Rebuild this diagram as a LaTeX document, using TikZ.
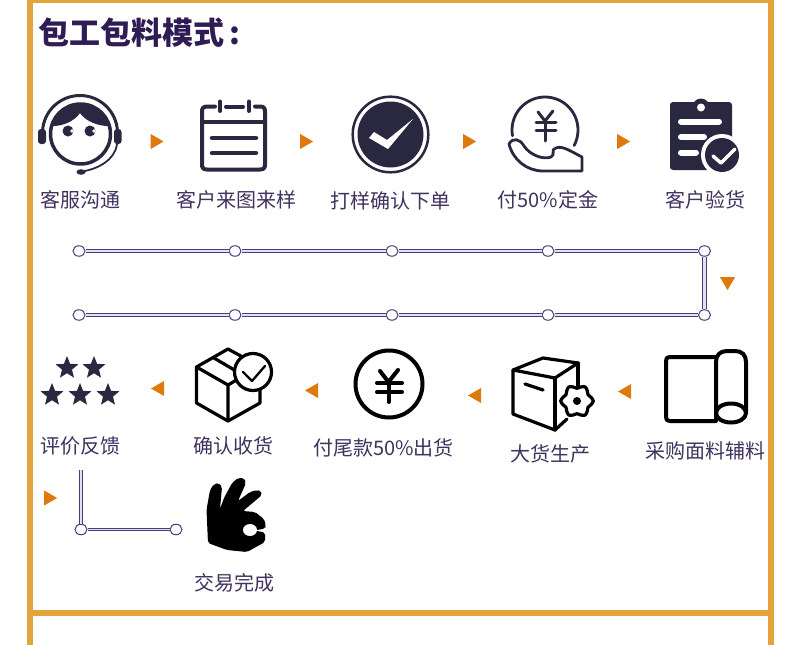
\documentclass[tikz,border=0pt]{standalone}
\usepackage{fontspec}
\setmainfont{Noto Sans CJK SC}
\usepackage{xcolor}
\usetikzlibrary{shapes.geometric,positioning}
\definecolor{bandorange}{HTML}{E3A43C}
\definecolor{markorange}{HTML}{DD7A0B}
\definecolor{inkdark}{HTML}{2A2840}
\definecolor{titlepurple}{HTML}{2F1C55}
\definecolor{textpurple}{HTML}{40335F}
\definecolor{linepurple}{HTML}{4B3A80}
\tikzset{
    title/.style = {anchor=west, inner sep=0pt, font=\fontsize{31}{31}\selectfont\bfseries, text=titlepurple},
    steplabel/.style = {inner sep=0pt, font=\fontsize{20}{20}\selectfont, text=textpurple},
    markright/.style = {regular polygon, regular polygon sides=3, shape border rotate=-90, minimum size=17.3pt, inner sep=0pt, outer sep=0pt, fill=markorange},
    markleft/.style = {markright, shape border rotate=90},
    markdown/.style = {markright, shape border rotate=180},
    dot/.style = {ellipse, minimum width=12pt, minimum height=10.5pt, inner sep=0pt, draw=linepurple, fill=white, line width=1pt},
    rail/.style = {draw=linepurple, line width=1pt, double=white!85!linepurple, double distance=1.1pt},
    railwide/.style = {rail, double distance=2.4pt},
    starmark/.style = {star, star points=5, star point ratio=2.3, minimum size=24pt, inner sep=0pt, fill=inkdark},
    icondark/.style = {draw=inkdark, line width=4pt, line cap=round, line join=round},
    iconblack/.style = {draw=black, line width=3.2pt, line cap=round, line join=round}
}
\begin{document}
\begin{tikzpicture}[x=1pt, y=-1pt]
    \fill[white] (0,0) rectangle (790,645);
    \useasboundingbox (0,0) rectangle (790,645);

    % frame
    \fill[bandorange] (27,0) rectangle (774,645);
    \fill[white] (33,3) rectangle (768,610);
    \fill[white] (33,616) rectangle (768,645);

    \node [title] (heading) at (38,33) {包工包料模式\hspace{5pt}:};

    % labels
    \node [steplabel] (lab1) at (80,199.5) {客服沟通};
    \node [steplabel] (lab2) at (236.5,200) {客户来图来样};
    \node [steplabel] (lab3) at (390,200.5) {打样确认下单};
    \node [steplabel] (lab4) at (548,199.5) {付50\%定金};
    \node [steplabel] (lab5) at (705,199.5) {客户验货};
    \node [steplabel] (lab6) at (705,451) {采购面料辅料};
    \node [steplabel] (lab7) at (550.5,454) {大货生产};
    \node [steplabel] (lab8) at (383.5,448) {付尾款50\%出货};
    \node [steplabel] (lab9) at (233.5,446) {确认收货};
    \node [steplabel] (lab10) at (80,446) {评价反馈};
    \node [steplabel] (lab11) at (234,583) {交易完成};

    % orange marks
    \node [markright] (m1) at (155,141.5) {};
    \node [markright] (m2) at (304.5,141.5) {};
    \node [markright] (m3) at (467.5,141.5) {};
    \node [markright] (m4) at (621.5,141.5) {};
    \node [markdown] (m5) at (727.5,281.5) {};
    \node [markleft] (m6) at (626.7,391.5) {};
    \node [markleft] (m7) at (476.7,395.5) {};
    \node [markleft] (m8) at (313.7,390.5) {};
    \node [markleft] (m9) at (159.7,388.5) {};
    \node [markright] (m10) at (48.5,498) {};

    % rails
    \node [dot] (a1) at (79,251) {};
    \node [dot] (a2) at (235,251) {};
    \node [dot] (a3) at (392,251) {};
    \node [dot] (a4) at (548,251) {};
    \node [dot] (a5) at (704.5,251) {};
    \node [dot] (b1) at (79,315) {};
    \node [dot] (b2) at (235,315) {};
    \node [dot] (b3) at (392,315) {};
    \node [dot] (b4) at (548,315) {};
    \node [dot] (b5) at (704.5,315) {};
    \draw [rail] (a1) -- (a2);
    \draw [rail] (a2) -- (a3);
    \draw [rail] (a3) -- (a4);
    \draw [rail] (a4) -- (a5);
    \draw [rail] (b1) -- (b2);
    \draw [rail] (b2) -- (b3);
    \draw [rail] (b3) -- (b4);
    \draw [rail] (b4) -- (b5);
    \draw [railwide] (a5.south) -- (b5.north);
    \node [dot] (c1) at (81,529.5) {};
    \node [dot] (c2) at (176,529.5) {};
    \coordinate (c0) at (81,470);
    \draw [rail] (c1) -- (c2);
    \draw [railwide] (c0) -- (c1.north);

    % headset face
    \draw [icondark, line width=3pt] plot[domain=-5:185, samples=40] ({80+37.5*cos(\x)},{133-37.5*sin(\x)});
    \fill [inkdark, rounded corners=3pt] (38,129) rectangle (46,144);
    \fill [inkdark, rounded corners=3pt] (114,129) rectangle (121.5,144);
    \draw [icondark, line width=3.5pt] (80.5,134) circle[radius=30];
    \fill [inkdark] plot[domain=15:165, samples=30] ({80.5+30*cos(\x)},{134-30*sin(\x)})
        .. controls (62,126) and (74,122) .. (80,113) .. controls (86,122) and (99,126) .. cycle;
    \fill [inkdark] (68,131) circle[radius=5.5];
    \fill [inkdark] (90,131) circle[radius=5.5];
    \fill [white] (72,131) circle[radius=1.9];
    \fill [white] (94,131) circle[radius=1.9];
    \draw [icondark, line width=1.8pt] (117,144) .. controls (115,160) and (98,169) .. (82,171.5);
    \fill [inkdark] (81,172) ellipse[x radius=4.5, y radius=2.8];

    % calendar
    \draw [icondark] (215,106.5) -- (208,106.5) .. controls (203,106.5) and (202,108) .. (202,112) -- (202,164)
        .. controls (202,168) and (203,169.5) .. (207,169.5) -- (260,169.5) .. controls (264,169.5) and (265,168) .. (265,164)
        -- (265,112) .. controls (265,108) and (264,106.5) .. (260,106.5) -- (255,106.5);
    \draw [icondark] (226,106.5) -- (243,106.5);
    \draw [icondark] (220,101.5) -- (220,111);
    \draw [icondark] (249,101.5) -- (249,111);
    \draw [icondark] (202,122) -- (265,122);
    \draw [icondark, line width=4.5pt] (212,138) -- (256,138);
    \draw [icondark, line width=4.5pt] (212,153) -- (256,153);

    % check disc
    \draw [inkdark, line width=2.5pt] (390.5,134.5) circle[radius=37.8];
    \fill [inkdark] (390.5,134.5) circle[radius=33];
    \fill [white] (369,138) -- (374,132) -- (387,140) -- (413,119) -- (388,149) -- cycle;

    % hand with coin
    \draw [icondark, line width=2.8pt] plot[domain=-28:190, samples=40] ({545+33*cos(\x)},{130-33*sin(\x)});
    \draw [icondark, line width=3pt] (538,112) -- (545,121) -- (553,111);
    \draw [icondark, line width=3pt] (536,122) -- (556,122);
    \draw [icondark, line width=3pt] (536,130) -- (556,130);
    \draw [icondark, line width=3pt] (545,121) -- (545,141);
    \draw [icondark, line width=2.8pt] (509,144) .. controls (513,137) and (520,139) .. (524,146)
        .. controls (530,155) and (543,160) .. (551,157) .. controls (556,155) and (550,149) .. (556,148)
        .. controls (562,145) and (572,152) .. (582,157) -- (582,171) -- (543,171)
        .. controls (527,171) and (513,160) .. cycle;

    % clipboard
    \fill [inkdark, rounded corners=3pt] (670,102) rectangle (732,170);
    \fill [inkdark] (701,107) circle[radius=8.5];
    \fill [white] (701,107.5) circle[radius=4];
    \draw [white, line width=6pt, line cap=round] (681,121.5) -- (719,121.5);
    \draw [white, line width=6pt, line cap=round] (681,137) -- (704,137);
    \draw [white, line width=6pt, line cap=round] (681,152.5) -- (696,152.5);
    \fill [white] (722,155) circle[radius=21];
    \fill [inkdark] (722,155) circle[radius=17];
    \draw [white, line width=3.5pt, line cap=round, line join=round] (713,156) -- (721,163) -- (735,149);

    % stars
    \node [starmark] (star1) at (67,368) {};
    \node [starmark] (star2) at (94,368) {};
    \node [starmark] (star3) at (52,395) {};
    \node [starmark] (star4) at (80,395) {};
    \node [starmark] (star5) at (108,395) {};

    % box with check
    \draw [iconblack] (228,349) -- (196.5,367) -- (196.5,403) -- (228,421) -- (260,403) -- (260,385);
    \draw [iconblack] (196.5,367) -- (228,385) -- (228,421);
    \draw [iconblack] (228,385) -- (250,372);
    \draw [iconblack] (228,349) -- (250,361);
    \draw [iconblack] (214,358) -- (236,371);
    \filldraw [iconblack, fill=white] (253,372) circle[radius=18.5];
    \draw [iconblack, line width=2.3pt] (243,372) -- (252,381) -- (265,366);

    % yen coin
    \draw [iconblack, line width=4pt] (389,384) circle[radius=33.5];
    \draw [iconblack, line width=4pt] (380,371) -- (388.5,382) -- (398,370);
    \draw [iconblack, line width=4pt] (377,383) -- (402,383);
    \draw [iconblack, line width=4pt] (377,392) -- (402,392);
    \draw [iconblack, line width=4pt] (388.5,382) -- (388.5,402);

    % box with gear
    \draw [iconblack] (513,370) -- (543,358) -- (578,363) -- (555,378) -- cycle;
    \draw [iconblack] (513,370) -- (513,414) -- (555,430) -- (567,419);
    \draw [iconblack] (555,378) -- (555,430);
    \draw [iconblack] (578,363) -- (578,386);
    \draw [iconblack] (525,384) -- (543,390);
    \filldraw [iconblack, fill=white] plot[smooth cycle, domain=0:345, samples=24] ({577+(14.5+1.8*cos(6*\x))*cos(\x)},{401-(14.5+1.8*cos(6*\x))*sin(\x)});
    \fill [black] (577,401) circle[radius=4];

    % fabric roll
    \draw [iconblack, line width=4pt] (716,357) -- (670,357) .. controls (667,357) and (666,358) .. (666,361)
        -- (666,417) .. controls (666,420) and (667,421) .. (670,421) -- (716,421);
    \draw [iconblack, line width=4pt] (716,420) -- (716,362) .. controls (716,355) and (720,351) .. (727,351)
        -- (735,351) .. controls (742,351) and (746,355) .. (746,362) -- (746,413);
    \draw [iconblack, line width=4pt] (731,413) ellipse[x radius=15, y radius=9.5];

    % ok hand
    \fill [black, rounded corners=2pt] (208,543) -- (206.5,510) -- (210,490) -- (214,484) -- (219,483) -- (222,487)
        -- (220,509) -- (224,498) -- (232,483) -- (238,478) -- (244,478) -- (246,483) -- (238,501) -- (250,492)
        -- (257,490) -- (261,491) -- (262,495) -- (243,511) -- (255,512) -- (264,519) -- (266,526) -- (265,528.5)
        -- (254,530.5) -- (265,532.5) -- (265,542) -- (247,552) -- (227,550) -- cycle;
    \fill [white] (250,530) ellipse[x radius=7, y radius=6];
\end{tikzpicture}
\end{document}
